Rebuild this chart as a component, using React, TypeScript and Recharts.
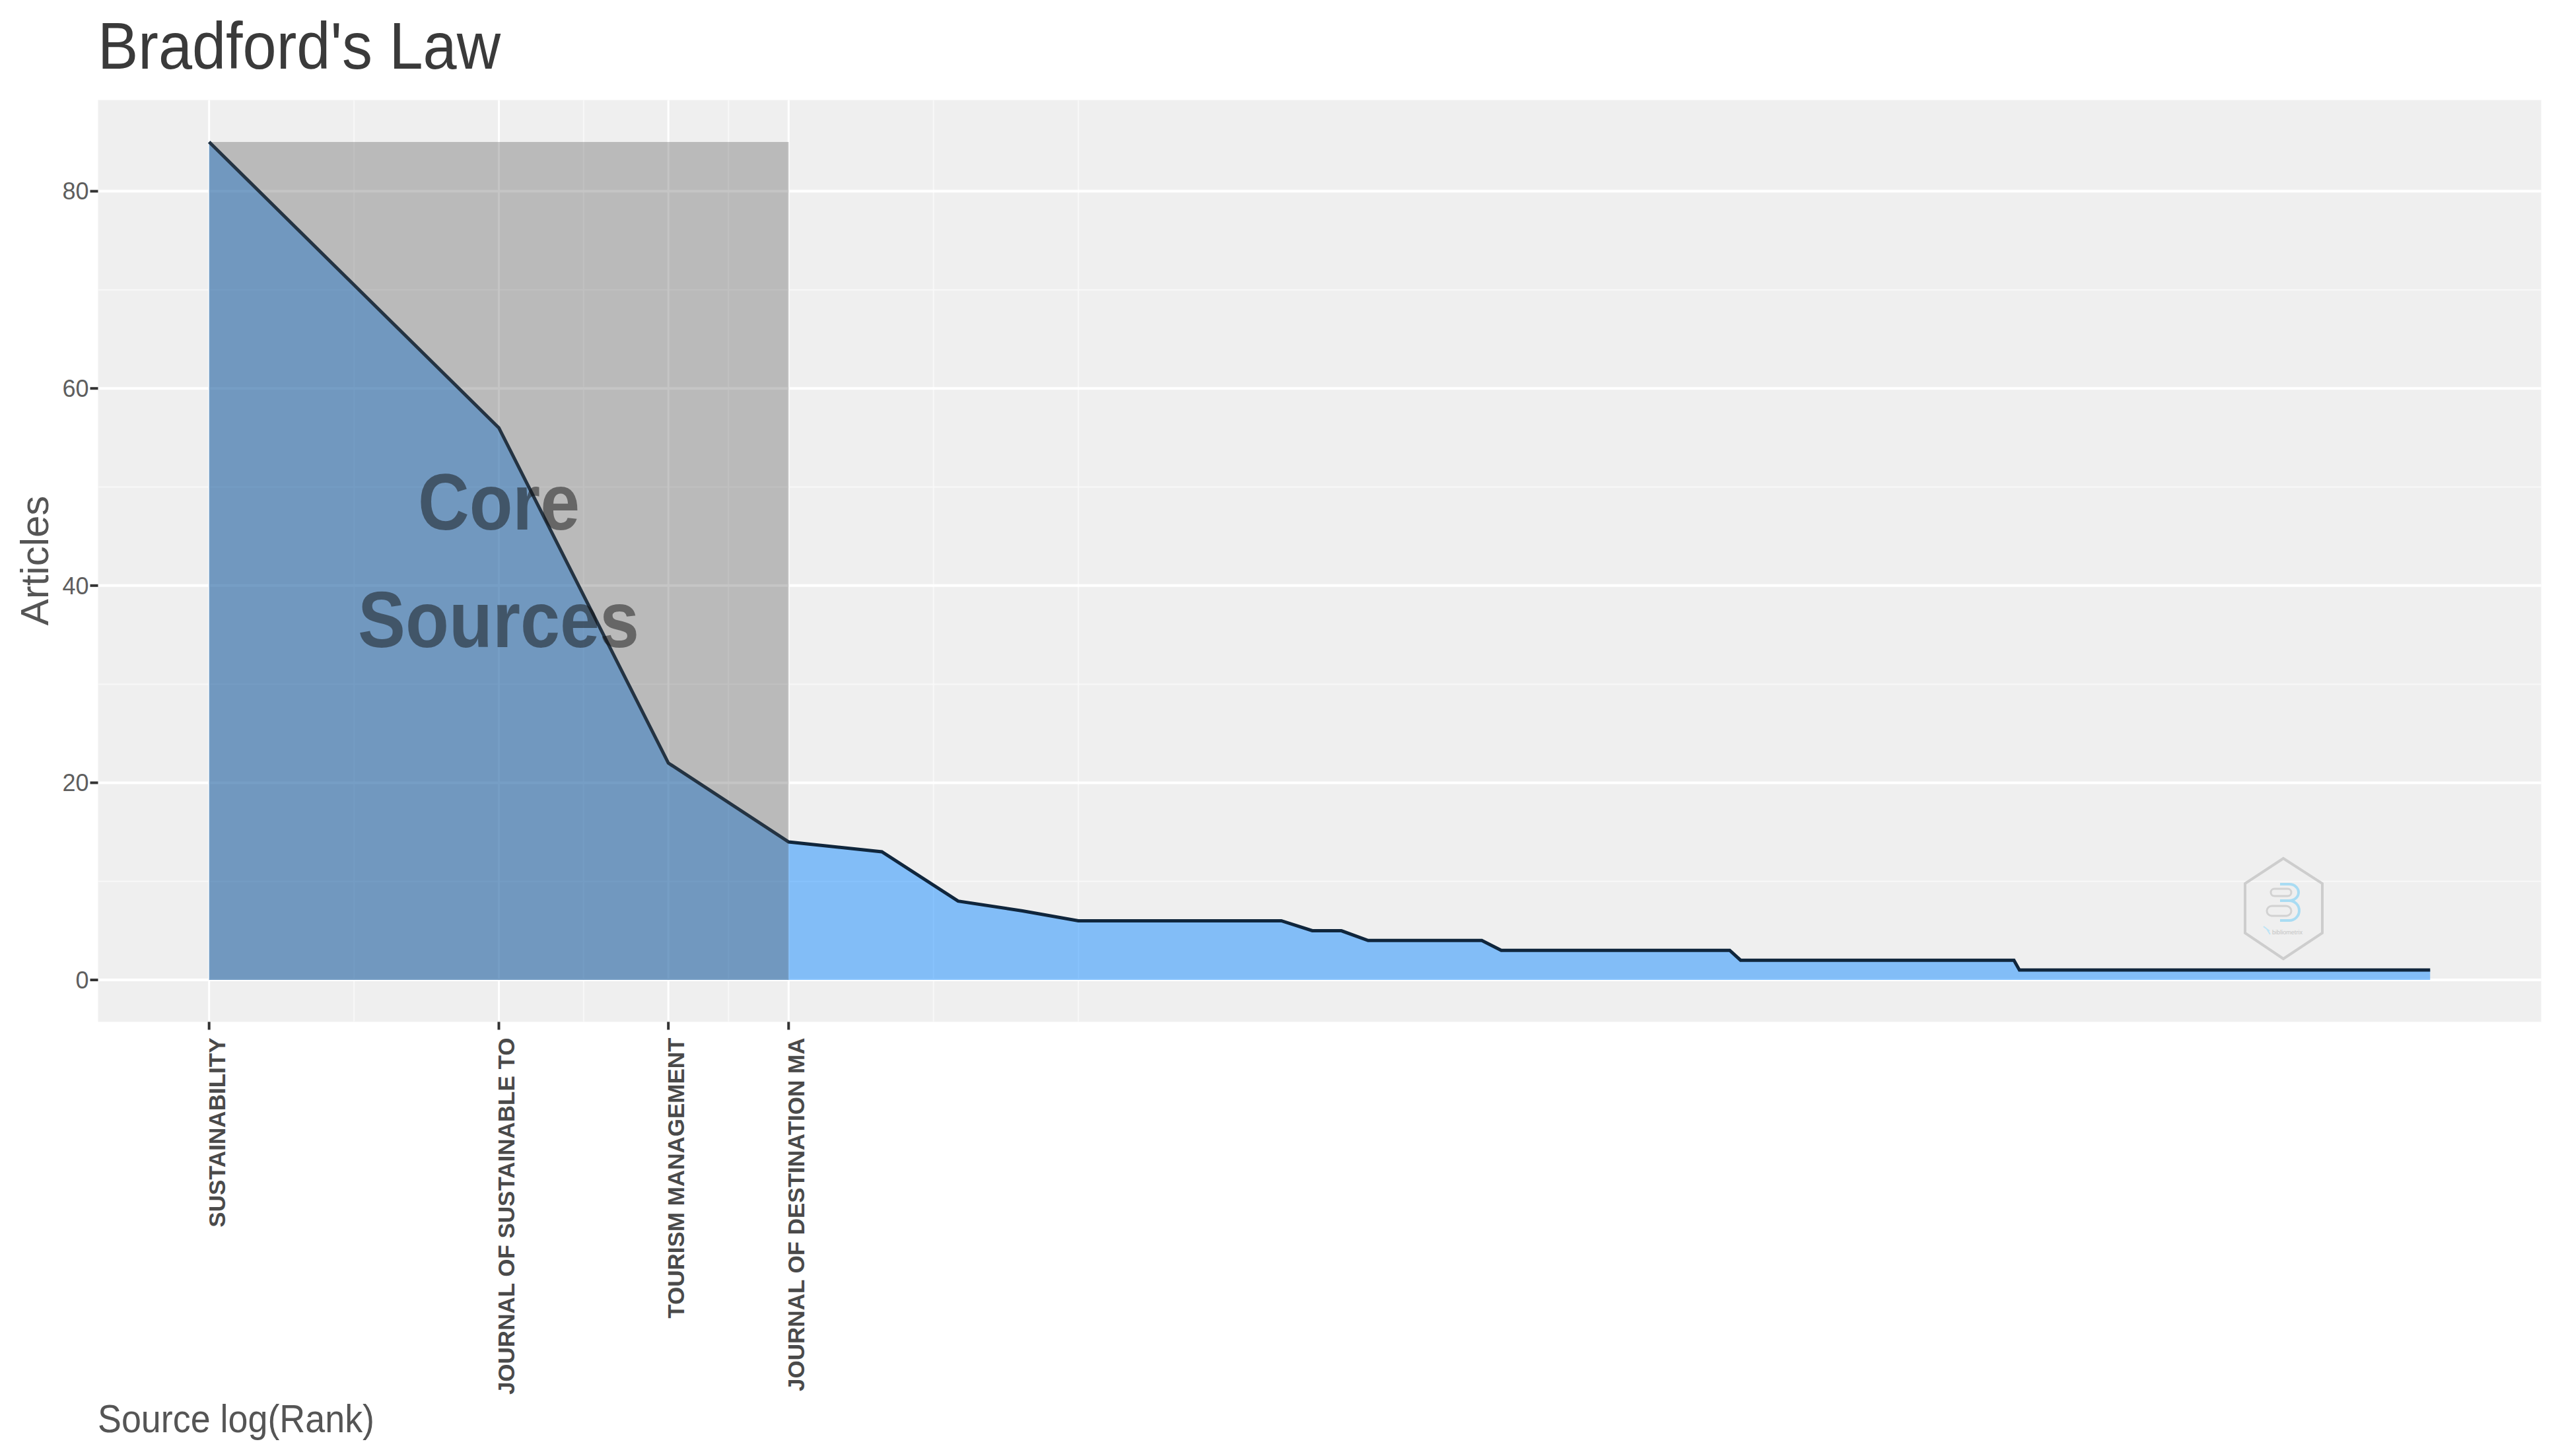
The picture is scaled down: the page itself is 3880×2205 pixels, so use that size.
import {
  Area,
  CartesianGrid,
  ComposedChart,
  ReferenceArea,
  XAxis,
  YAxis,
} from "recharts";

const FONT = '"Liberation Sans", Arial, sans-serif';

// source rank where the curve changes, and the articles at that rank
const ranks = [1, 2, 3, 4, 5, 6, 7, 8, 13, 14, 15, 16, 21, 22, 38, 39, 75, 76, 203];
const articles = [85, 56, 22, 14, 13, 8, 7, 6, 6, 5, 5, 4, 4, 3, 3, 2, 2, 1, 1];

const coreRanks = [1, 2, 3, 4];
const coreSources = [
  "SUSTAINABILITY",
  "JOURNAL OF SUSTAINABLE TO",
  "TOURISM MANAGEMENT",
  "JOURNAL OF DESTINATION MA",
];

const yMajor = [0, 20, 40, 60, 80];
const yMinor = [10, 30, 50, 70];
const xMinor = [0.3466, 0.8959, 1.2425, 1.7329, 2.0794];

const data = ranks.map((rank, i) => ({
  logRank: Math.log(rank),
  articles: articles[i],
}));

const coreLog = coreRanks.map((r) => Math.log(r));
const maxLog = Math.log(ranks[ranks.length - 1]);
const xDomain = [-0.05 * maxLog, 1.05 * maxLog];

function SourceTick({ x, y, index }: any) {
  return (
    <text
      x={x + 24}
      y={y + 10}
      transform={`rotate(-90 ${x + 24} ${y + 10})`}
      textAnchor="end"
      fontFamily={FONT}
      fontWeight={700}
      fontSize={35}
      fill="#4a4a4a"
    >
      {coreSources[index]}
    </text>
  );
}

// the small hexagon logo in the lower right of the panel
function Logo() {
  return (
    <g fill="none">
      <polygon
        points="3458,1300 3517,1338 3517,1413 3458,1452 3400,1413 3400,1338"
        stroke="#cdcdcd"
        strokeWidth={4}
      />
      <rect x={3439} y={1346} width={31} height={11} rx={5.5} stroke="#d2d2d2" strokeWidth={3} />
      <rect x={3433} y={1372} width={37} height={15} rx={7.5} stroke="#d2d2d2" strokeWidth={3} />
      <path
        d="M3453 1339 h14 a14 12.5 0 0 1 0 25 h-14 M3467 1364 a15 15 0 0 1 0 30 h-14"
        stroke="#a9dcf3"
        strokeWidth={4}
      />
      <path d="M3428 1403 l9 7 l-4 -3 l5 8" stroke="#bfe4f5" strokeWidth={2} />
      <text
        x={3441}
        y={1415}
        fontFamily={FONT}
        fontSize={9}
        fill="#c4c4c4"
        stroke="none"
        textLength={46}
        lengthAdjust="spacingAndGlyphs"
      >
        bibliometrix
      </text>
    </g>
  );
}

export default function App() {
  return (
    <div style={{ position: "absolute", left: 0, top: 0, width: 3880, height: 2205, background: "#fff" }}>
      <ComposedChart
        width={3880}
        height={2205}
        data={data}
        margin={{ top: 151.5, right: 31.5, bottom: 57.5, left: 48.5 }}
      >
        <CartesianGrid
          fill="#efefef"
          stroke="#f8f8f8"
          strokeWidth={2}
          horizontalValues={yMinor}
          verticalValues={xMinor}
        />
        <CartesianGrid stroke="#ffffff" strokeWidth={3} horizontal={false} verticalValues={coreLog} />
        <CartesianGrid stroke="#ffffff" strokeWidth={4} vertical={false} horizontalValues={yMajor} />
        <XAxis
          type="number"
          dataKey="logRank"
          domain={xDomain}
          ticks={coreLog}
          interval={0}
          height={600}
          tick={<SourceTick />}
          tickSize={12}
          tickLine={{ stroke: "#333333", strokeWidth: 4 }}
          axisLine={false}
        />
        <YAxis
          type="number"
          domain={[-4.25, 89.25]}
          ticks={yMajor}
          width={100}
          tickSize={12}
          tickLine={{ stroke: "#333333", strokeWidth: 4 }}
          axisLine={false}
          tick={{ fontFamily: FONT, fontSize: 36, fill: "#5e5e5e" }}
        />
        <Area
          type="linear"
          dataKey="articles"
          fill="#1E90FF"
          fillOpacity={0.52}
          stroke="#10263c"
          strokeWidth={5}
          dot={false}
          activeDot={false}
          isAnimationActive={false}
        />
        <ReferenceArea
          x1={coreLog[0]}
          x2={coreLog[3]}
          y1={0}
          y2={articles[0]}
          fill="#505050"
          fillOpacity={0.33}
          stroke="none"
        />
      </ComposedChart>
      <svg
        width={3880}
        height={2205}
        style={{ position: "absolute", left: 0, top: 0, pointerEvents: "none" }}
      >
        <text x={148} y={104} fontFamily={FONT} fontSize={100} fill="#3a3a3a" textLength={610} lengthAdjust="spacingAndGlyphs">
          Bradford's Law
        </text>
        <text
          transform="translate(73 849) rotate(-90)"
          textAnchor="middle"
          fontFamily={FONT}
          fontSize={60}
          fill="#555555"
        >
          Articles
        </text>
        <text x={148} y={2169} fontFamily={FONT} fontSize={60} fill="#555555" textLength={419} lengthAdjust="spacingAndGlyphs">
          Source log(Rank)
        </text>
        <g fontFamily={FONT} fontWeight={700} fontSize={120} fill="#121212" fillOpacity={0.5}>
          <text x={633} y={802} textLength={245} lengthAdjust="spacingAndGlyphs">Core</text>
          <text x={542} y={980} textLength={426} lengthAdjust="spacingAndGlyphs">Sources</text>
        </g>
        <Logo />
      </svg>
    </div>
  );
}
